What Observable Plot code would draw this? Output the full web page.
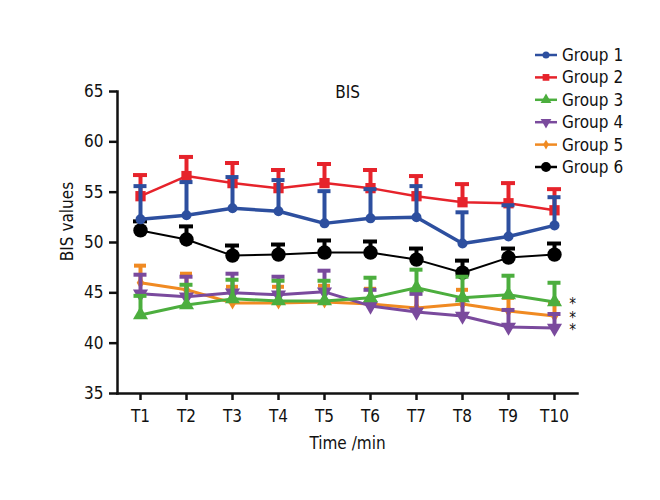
<!DOCTYPE html>
<html><head><meta charset="utf-8">
<script src="https://cdn.jsdelivr.net/npm/d3@7"></script>
<script src="https://cdn.jsdelivr.net/npm/@observablehq/plot@0.6"></script>
<style>
body{margin:0;background:#fff;}
#chart svg text{font-stretch:condensed;}
</style></head><body><div id="chart"></div><script>
const times = ["T1","T2","T3","T4","T5","T6","T7","T8","T9","T10"];
const groups = ["Group 1","Group 2","Group 3","Group 4","Group 5","Group 6"];
const mean1 = [52.3, 52.7, 53.4, 53.1, 51.9, 52.4, 52.5, 49.9, 50.6, 51.7];
const sd1   = [3.3, 3.3, 3.1, 3.1, 3.2, 2.9, 3.1, 3.1, 3.1, 2.8];
const mean2 = [54.6, 56.6, 55.9, 55.4, 55.9, 55.4, 54.6, 54.0, 53.9, 53.2];
const sd2   = [2.1, 1.9, 2.0, 1.8, 1.9, 1.8, 2.0, 1.8, 2.0, 2.1];
const mean3 = [42.8, 43.8, 44.4, 44.2, 44.2, 44.5, 45.5, 44.5, 44.8, 44.1];
const sd3   = [1.9, 2.0, 1.9, 2.0, 2.0, 2.0, 1.8, 2.1, 1.9, 1.9];
const mean4 = [44.9, 44.6, 45.0, 44.8, 45.1, 43.7, 43.1, 42.7, 41.6, 41.5];
const sd4   = [1.9, 2.0, 1.9, 1.8, 2.1, 1.6, 1.8, 1.6, 1.7, 1.4];
const mean5 = [46.0, 45.3, 44.0, 44.0, 44.1, 43.9, 43.5, 43.9, 43.2, 42.7];
const sd5   = [1.7, 1.6, 1.6, 1.6, 1.6, 1.5, 1.5, 1.4, 1.3, 1.3];
const mean6 = [51.2, 50.3, 48.7, 48.8, 49.0, 49.0, 48.3, 47.0, 48.5, 48.8];
const sd6   = [0.9, 1.3, 1.0, 1.0, 1.2, 1.1, 1.1, 1.2, 0.9, 1.1];
const yTicks = [35, 40, 45, 50, 55, 60, 65];
const starGroups = ["Group 3", "Group 5", "Group 4"];

const means = [mean1, mean2, mean3, mean4, mean5, mean6];
const sds = [sd1, sd2, sd3, sd4, sd5, sd6];
const colors = ["#2d4f9f", "#e6232b", "#4cae3e", "#7a4a9d", "#f08a22", "#000000"];
const triangleDown = {draw(ctx, size){const s = Math.sqrt(size*4/Math.sqrt(3)); const h = s*Math.sqrt(3)/2; ctx.moveTo(-s/2, -h/3); ctx.lineTo(s/2, -h/3); ctx.lineTo(0, 2*h/3); ctx.closePath();}};
const symbols = ["circle", "square", "triangle", triangleDown, "diamond", "circle"];
const radii = [5, 5.8, 5.6, 5.6, 4, 7.2];
const lineW = [3.5, 2.5, 3, 3, 3, 2];
const capHalf = [6.5, 7, 6.5, 6.5, 6, 7];
const legR = [3.5, 3.8, 4, 4, 3, 5];

const rowsByGroup = groups.map((g, i) => times.map((t, j) => ({group: g, t, mean: means[i][j], top: means[i][j] + sds[i][j]})));

const font = "'DejaVu Sans Condensed', 'DejaVu Sans', sans-serif";
const marks = [];
for (let i = groups.length - 1; i >= 0; i--) {
  const rows = rowsByGroup[i];
  const c = colors[i];
  marks.push(Plot.line(rows, {x: "t", y: "mean", stroke: c, strokeWidth: lineW[i]}));
  marks.push(Plot.ruleX(rows, {x: "t", y1: "mean", y2: "top", stroke: c, strokeWidth: 4}));
  marks.push(Plot.ruleY(rows, {y: "top", x1: "t", x2: "t", insetLeft: -capHalf[i], insetRight: -capHalf[i], stroke: c, strokeWidth: 4}));
  marks.push(Plot.dot(rows, {x: "t", y: "mean", symbol: () => symbols[i], r: radii[i], fill: c, stroke: "none"}));
}
const starRows = starGroups.map(g => { const i = groups.indexOf(g); return {t: times[times.length-1], mean: means[i][times.length-1]}; });
marks.push(Plot.text(starRows, {x: "t", y: "mean", text: () => "*", dx: 18, dy: 2, fontSize: 15, fill: "#111"}));
marks.push(Plot.text(["BIS"], {frameAnchor: "top", lineAnchor: "bottom", dy: 6, fontSize: 17, fill: "#111"}));
marks.push(Plot.text(["Time /min"], {frameAnchor: "bottom", lineAnchor: "middle", dy: 50, fontSize: 17, fill: "#111"}));
marks.push(Plot.text(["BIS values"], {frameAnchor: "left", textAnchor: "middle", rotate: -90, dx: -50, dy: -21, fontSize: 17, fill: "#111"}));

const chart = Plot.plot({
  width: 660, height: 500,
  marginLeft: 117, marginRight: 83, marginTop: 91, marginBottom: 107,
  style: {fontFamily: font, fontSize: "17px", color: "#111", background: "#fff", overflow: "visible"},
  x: {type: "point", domain: times, padding: 0.5, label: null, tickSize: 7, tickPadding: 9, line: true},
  y: {domain: [35, 65], ticks: yTicks, label: null, tickSize: 8, tickPadding: 6, line: true},
  marks
});
document.getElementById("chart").appendChild(chart);

const svg = d3.select(chart);
svg.selectAll('g[aria-label="x-axis tick"], g[aria-label="y-axis tick"], g[aria-label="frame"], [aria-label="frame"]').attr("stroke-width", 2.5).attr("stroke", "#111");

// legend
const leg = svg.append("g").attr("transform", "translate(535,55)");
groups.forEach((g, i) => {
  const row = leg.append("g").attr("transform", `translate(0,${i*22.4})`);
  row.append("line").attr("x1", 0).attr("x2", 22).attr("stroke", colors[i]).attr("stroke-width", 2.5);
  const sym = typeof symbols[i] === "string" ? ({circle: d3.symbolCircle, square: d3.symbolSquare, triangle: d3.symbolTriangle, diamond: d3.symbolDiamond})[symbols[i]] : symbols[i];
  row.append("path").attr("transform", "translate(11,0)").attr("d", d3.symbol(sym, Math.PI * legR[i] * legR[i])()).attr("fill", colors[i]);
  row.append("text").attr("x", 27).attr("dy", "0.35em").attr("text-anchor", "start").attr("font-size", 17).attr("fill", "#111").attr("font-family", font).style("font-stretch", "condensed").text(g);
});
</script></body></html>
